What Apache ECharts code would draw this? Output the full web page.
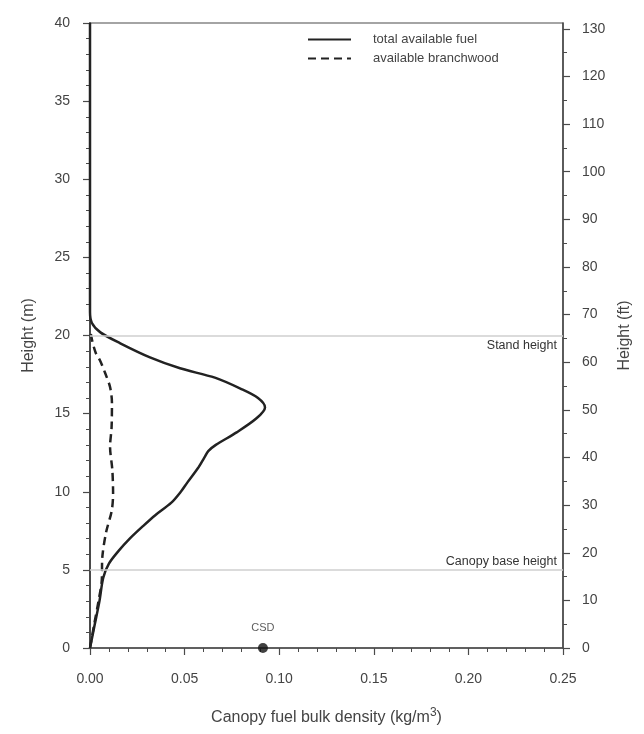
<!DOCTYPE html>
<html>
<head>
<meta charset="utf-8">
<script src="https://cdn.jsdelivr.net/npm/echarts@6/dist/echarts.min.js"></script>
<style>
  html, body { margin: 0; padding: 0; background: #fff; }
  #chart { width: 644px; height: 734px; }
</style>
</head>
<body>
<div id="chart"></div>
<script>
// Vertical canopy fuel profile: height (m) vs bulk density (kg/m3)
const totalHeights = [0, 1.5, 3.0, 4.5, 5.4, 6.2, 7.0, 7.8, 8.5, 9.3, 10.0, 10.6, 11.5, 12.2, 12.6, 13.0, 13.8, 14.7, 15.4, 16.0, 16.6, 17.3, 17.9, 18.6, 19.5, 20.2, 20.8, 21.5, 40];
const totalDensity = [0, 0.0025, 0.0050, 0.0070, 0.0100, 0.0150, 0.0210, 0.0280, 0.0345, 0.0430, 0.0480, 0.0515, 0.0570, 0.0605, 0.0625, 0.0665, 0.0775, 0.0880, 0.0925, 0.0888, 0.0795, 0.0660, 0.0476, 0.0317, 0.0160, 0.0055, 0.0010, 0, 0];

const branchHeights = [0, 1.5, 3.0, 4.3, 5.8, 7.4, 8.8, 9.9, 11.4, 12.9, 14.1, 15.7, 16.7, 17.6, 18.4, 18.9, 19.7, 20.4];
const branchDensity = [0, 0.0022, 0.0045, 0.0062, 0.0065, 0.0085, 0.0115, 0.0122, 0.0118, 0.0106, 0.0114, 0.0116, 0.0106, 0.0080, 0.0053, 0.0030, 0.0011, 0];

const standHeight = 20;
const canopyBaseHeight = 5;
const csdValue = 0.0914;

const ftMajor = [0, 10, 20, 30, 40, 50, 60, 70, 80, 90, 100, 110, 120, 130];
const ftMinor = [5, 15, 25, 35, 45, 55, 65, 75, 85, 95, 105, 115, 125];

const M_TO_FT = 1 / 0.3048;
const font = 'Liberation Sans';
const axisColor = '#4a4a4a';
const textColor = '#444';

const pairs = (xs, ys) => xs.map((x, i) => [x, ys[i]]);

const chart = echarts.init(document.getElementById('chart'), null, { renderer: 'canvas' });

chart.setOption({
  backgroundColor: '#fff',
  animation: false,
  textStyle: { fontFamily: font },
  grid: {
    left: 90, right: 81, top: 23, bottom: 86,
    show: true, borderColor: axisColor, borderWidth: 1.2, backgroundColor: 'transparent'
  },
  legend: {
    orient: 'vertical',
    left: 302, top: 28,
    itemWidth: 43, itemHeight: 12, itemGap: 6,
    itemStyle: { opacity: 0 },
    textStyle: { fontFamily: font, fontSize: 13, color: textColor, padding: [0, 0, 0, 17] },
    data: ['total available fuel', 'available branchwood']
  },
  xAxis: {
    type: 'value', min: 0, max: 0.25, interval: 0.05,
    name: '{a|Canopy fuel bulk density (kg/m}{s|3}{a|)}',
    nameLocation: 'middle', nameGap: 59,
    nameTextStyle: {
      rich: {
        a: { fontFamily: font, fontSize: 16, color: textColor },
        s: { fontFamily: font, fontSize: 12, color: textColor, padding: [0, 0, 10, 0] }
      }
    },
    axisLine: { show: true, lineStyle: { color: axisColor, width: 1.5 } },
    axisTick: { show: true, length: 7, lineStyle: { color: axisColor, width: 1.2 } },
    minorTick: { show: true, splitNumber: 5, length: 4, lineStyle: { color: axisColor, width: 1 } },
    axisLabel: { fontFamily: font, fontSize: 14, color: textColor, margin: 24,
      formatter: v => v.toFixed(2) },
    splitLine: { show: false }
  },
  yAxis: [
    {
      type: 'value', min: 0, max: 40, interval: 5, position: 'left',
      name: 'Height (m)', nameLocation: 'middle', nameGap: 53, nameRotate: 90,
      nameTextStyle: { fontFamily: font, fontSize: 16, color: textColor },
      axisLine: { show: true, lineStyle: { color: axisColor, width: 2 } },
      axisTick: { show: true, length: 7, lineStyle: { color: axisColor, width: 1.2 } },
      minorTick: { show: true, splitNumber: 5, length: 4, lineStyle: { color: axisColor, width: 1 } },
      axisLabel: { fontFamily: font, fontSize: 14, color: textColor, margin: 20 },
      splitLine: { show: false }
    },
    {
      type: 'value', min: 0, max: 40 * M_TO_FT, position: 'right',
      name: 'Height (ft)', nameLocation: 'middle', nameGap: 51, nameRotate: 90,
      nameTextStyle: { fontFamily: font, fontSize: 16, color: textColor },
      axisLine: { show: true, onZero: false, lineStyle: { color: axisColor, width: 1.5 } },
      axisTick: { show: true, length: 7, customValues: ftMajor, lineStyle: { color: axisColor, width: 1.2 } },
      axisLabel: { fontFamily: font, fontSize: 14, color: textColor, margin: 19, customValues: ftMajor },
      splitLine: { show: false }
    },
    {
      type: 'value', min: 0, max: 40 * M_TO_FT, position: 'right',
      axisLine: { show: false, onZero: false },
      axisTick: { show: true, length: 4, customValues: ftMinor, lineStyle: { color: axisColor, width: 1 } },
      axisLabel: { show: false },
      splitLine: { show: false }
    }
  ],
  series: [
    {
      name: 'reference heights',
      type: 'line', data: [], symbol: 'none',
      markLine: {
        silent: true, symbol: 'none', animation: false,
        lineStyle: { color: '#cfcfcf', width: 1.5, type: 'solid' },
        data: [
          { yAxis: standHeight, label: { show: true, position: 'insideEndBottom', formatter: 'Stand height',
              fontFamily: font, fontSize: 12.5, color: '#333', distance: [6, 4] } },
          { yAxis: canopyBaseHeight, label: { show: true, position: 'insideEndTop', formatter: 'Canopy base height',
              fontFamily: font, fontSize: 12.5, color: '#333', distance: [6, 2] } }
        ]
      }
    },
    {
      name: 'total available fuel',
      type: 'line', data: pairs(totalDensity, totalHeights),
      symbol: 'none', smooth: 0.3,
      lineStyle: { color: '#222', width: 2.5, type: 'solid' },
      itemStyle: { color: '#222' }
    },
    {
      name: 'available branchwood',
      type: 'line', data: pairs(branchDensity, branchHeights),
      symbol: 'none', smooth: 0.3,
      lineStyle: { color: '#222', width: 2.5, type: [8, 5] },
      itemStyle: { color: '#222' }
    },
    {
      name: 'CSD',
      type: 'scatter', data: [[csdValue, 0]],
      symbol: 'circle', symbolSize: 10, clip: false, z: 5,
      itemStyle: { color: '#111' },
      label: { show: true, position: 'top', formatter: 'CSD', distance: 10,
        fontFamily: font, fontSize: 11, color: '#333' }
    }
  ]
});
</script>
</body>
</html>
